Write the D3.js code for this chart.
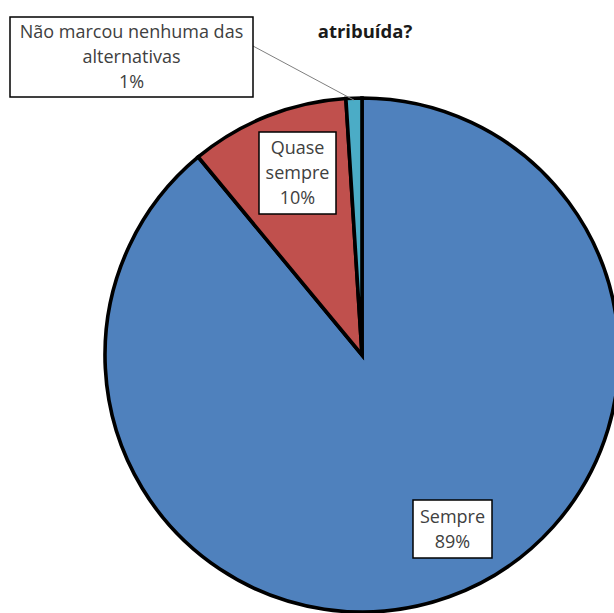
<!DOCTYPE html>
<html><head><meta charset="utf-8">
<script src="https://cdn.jsdelivr.net/npm/d3@7"></script>
<style>html,body{margin:0;padding:0;background:#fff;overflow:hidden}</style>
</head><body>
<svg id="c" width="614" height="613"></svg>
<script>
const categories = ["Sempre", "Quase sempre", "Não marcou nenhuma das alternativas"];
const values = [89, 10, 1];
const labelLines = [["Sempre", "89%"], ["Quase", "sempre", "10%"], ["Não marcou nenhuma das", "alternativas", "1%"]];
const colors = ["#4F81BD", "#C0504D", "#4BACC6"];
const titleText = "atribuída?";

const svg = d3.select("#c");
const cx = 362, cy = 355, R = 257;
const font = "'Open Sans', Lato, sans-serif";

svg.append("text").attr("x", 365).attr("y", 38).attr("text-anchor", "middle")
  .attr("font-family", font).attr("font-weight", "bold").attr("font-size", 18.5)
  .attr("fill", "#1a1a1a").text(titleText);

const pie = d3.pie().sort(null).value(d => d)(values);
const arc = d3.arc().innerRadius(0).outerRadius(R);
const g = svg.append("g").attr("transform", `translate(${cx},${cy})`);
g.selectAll("path").data(pie).join("path")
  .attr("d", arc).attr("fill", (d, i) => colors[i])
  .attr("stroke", "#000").attr("stroke-width", 3.6).attr("stroke-linejoin", "miter");

const boxes = [
  {x: 413, y: 500, w: 79, h: 58},
  {x: 259, y: 132, w: 77, h: 82},
  {x: 10, y: 17, w: 243, h: 80}
];
const small = pie[2];
const midA = (small.startAngle + small.endAngle) / 2;
svg.append("line")
  .attr("x1", boxes[2].x + boxes[2].w).attr("y1", 46)
  .attr("x2", cx + Math.sin(midA) * (R - 2)).attr("y2", cy - Math.cos(midA) * (R - 2))
  .attr("stroke", "#7f7f7f").attr("stroke-width", 1);

boxes.forEach((b, i) => {
  const gg = svg.append("g");
  gg.append("rect").attr("x", b.x).attr("y", b.y).attr("width", b.w).attr("height", b.h)
    .attr("fill", "#fff").attr("stroke", "#000").attr("stroke-width", 1.5);
  const lines = labelLines[i];
  const lh = 25;
  const top = b.y + b.h / 2 - (lines.length - 1) * lh / 2;
  lines.forEach((t, k) => {
    gg.append("text").attr("x", b.x + b.w / 2).attr("y", top + k * lh)
      .attr("dy", "0.35em").attr("text-anchor", "middle")
      .attr("font-family", font).attr("font-size", 18).attr("fill", "#404040").text(t);
  });
});
</script>
</body></html>
